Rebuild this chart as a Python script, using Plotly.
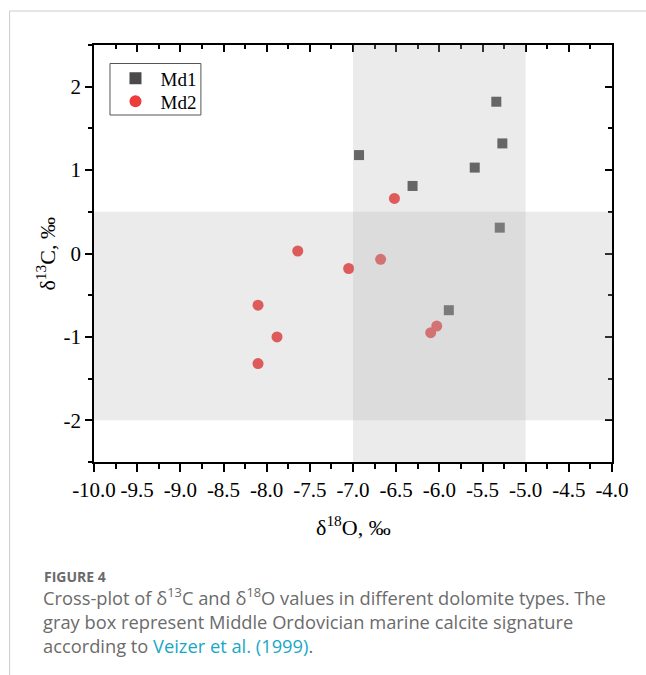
import plotly.graph_objects as go

# ---- data ----
md1_x = [-5.34, -5.27, -6.93, -5.59, -6.31, -5.30, -5.89]
md1_y = [1.82, 1.32, 1.18, 1.03, 0.81, 0.31, -0.68]
md2_x = [-6.52, -7.64, -7.05, -6.68, -8.10, -7.88, -8.10, -6.03, -6.10]
md2_y = [0.66, 0.03, -0.18, -0.07, -0.62, -1.00, -1.32, -0.87, -0.95]

x_tickvals = [-10.0, -9.5, -9.0, -8.5, -8.0, -7.5, -7.0, -6.5, -6.0, -5.5, -5.0, -4.5, -4.0]
x_ticktext = ["-10.0", "-9.5", "-9.0", "-8.5", "-8.0", "-7.5", "-7.0", "-6.5", "-6.0",
              "-5.5", "-5.0", "-4.5", "-4.0"]
y_tickvals = [-2, -1, 0, 1, 2]
y_ticktext = ["-2", "-1", "0", "1", "2"]

# marine calcite box (Veizer et al., 1999)
box_o18 = [-7.0, -5.0]
box_c13 = [-2.0, 0.5]

x_range = [-10.0, -4.0]
y_range = [-2.5, 2.5]

SERIF = "Liberation Serif"
W, H = 646, 675
L, R, T, B = 93.5, 34, 45, 213
PW, PH = W - L - R, H - T - B


def px(xp):
    return (xp - L) / PW


def py(yp):
    return (H - B - yp) / PH


fig = go.Figure()
fig.add_trace(go.Scatter(x=md1_x, y=md1_y, mode="markers", name="Md1", legend="legend",
                         marker=dict(symbol="square", size=10, color="#4a4a4a",
                                     line=dict(width=0))))
fig.add_trace(go.Scatter(x=md2_x, y=md2_y, mode="markers", name="Md2", legend="legend2",
                         marker=dict(symbol="circle", size=11, color="#ee3b3b",
                                     line=dict(width=0))))
# dummy trace for the mirrored (top/right) tick axes
fig.add_trace(go.Scatter(x=[None], y=[None], xaxis="x2", yaxis="y2",
                         showlegend=False, hoverinfo="skip"))

band = "rgba(180,180,180,0.265)"
fig.add_shape(type="rect", xref="x", yref="y", x0=box_o18[0], x1=box_o18[1],
              y0=y_range[0], y1=y_range[1], fillcolor=band, line=dict(width=0),
              layer="above")
fig.add_shape(type="rect", xref="x", yref="y", x0=x_range[0], x1=x_range[1],
              y0=box_c13[0], y1=box_c13[1], fillcolor=band, line=dict(width=0),
              layer="above")
# legend frame
fig.add_shape(type="rect", xref="paper", yref="paper", x0=px(109.5), x1=px(200.5),
              y0=py(115), y1=py(63.5), fillcolor="white",
              line=dict(color="#555555", width=1), layer="above")

# page frame lines
frame = "#cccccc"
fig.add_shape(type="line", xref="paper", yref="paper", x0=px(9), x1=px(W + 5),
              y0=py(11), y1=py(11), line=dict(color=frame, width=1))
fig.add_shape(type="line", xref="paper", yref="paper", x0=px(9), x1=px(9),
              y0=py(11), y1=py(H + 5), line=dict(color=frame, width=1))

axis_common = dict(showgrid=False, zeroline=False, linecolor="black", linewidth=1.5,
                   tickcolor="black", tickwidth=1.5,
                   tickfont=dict(family=SERIF, size=21, color="black"))

leg_common = dict(xanchor="left", yanchor="middle", bgcolor="rgba(0,0,0,0)",
                  borderwidth=0, font=dict(family=SERIF, size=19, color="black"),
                  itemwidth=40, itemsizing="constant")

fig.update_layout(
    width=W, height=H,
    margin=dict(l=L, r=R, t=T, b=B, pad=0),
    paper_bgcolor="white", plot_bgcolor="white",
    showlegend=True,
    legend=dict(x=px(110), y=py(78.5), **leg_common),
    legend2=dict(x=px(110), y=py(101.5), **leg_common),
    xaxis=dict(range=x_range, tickvals=x_tickvals, ticktext=x_ticktext,
               ticks="outside", ticklen=8, mirror=True, showline=True,
               minor=dict(dtick=0.25, tick0=-10, ticks="outside", ticklen=5,
                          tickcolor="black", tickwidth=1.5, showgrid=False),
               **axis_common),
    yaxis=dict(range=y_range, tickvals=y_tickvals, ticktext=y_ticktext,
               ticks="outside", ticklen=7, mirror=True, showline=True,
               minor=dict(dtick=0.5, tick0=-2.5, ticks="outside", ticklen=4,
                          tickcolor="black", tickwidth=1.5, showgrid=False),
               **axis_common),
    xaxis2=dict(range=x_range, overlaying="x", side="top", anchor="y2",
                tickvals=x_tickvals, showticklabels=False,
                ticks="inside", ticklen=7, showline=False,
                minor=dict(dtick=0.25, tick0=-10, ticks="inside", ticklen=4,
                           tickcolor="black", tickwidth=1.5, showgrid=False),
                **axis_common),
    yaxis2=dict(range=y_range, overlaying="y", side="right", anchor="x2",
                tickvals=y_tickvals, showticklabels=False,
                ticks="inside", ticklen=7, showline=False,
                minor=dict(dtick=0.5, tick0=-2.5, ticks="inside", ticklen=4,
                           tickcolor="black", tickwidth=1.5, showgrid=False),
                **axis_common),
)

# axis titles
fig.add_annotation(xref="paper", yref="paper", x=0.5, y=py(526),
                   text="δ<sup>18</sup>O, ‰", showarrow=False,
                   font=dict(family=SERIF, size=22, color="black"),
                   xanchor="center", yanchor="middle")
fig.add_annotation(xref="paper", yref="paper", x=px(45), y=py(254),
                   text="δ<sup>13</sup>C, ‰", showarrow=False, textangle=-90,
                   font=dict(family=SERIF, size=22, color="black"),
                   xanchor="center", yanchor="middle")

# caption
CAP = "Open Sans"
cap_col = "#6b6b6b"
fig.add_annotation(xref="paper", yref="paper", x=px(41), y=py(576),
                   text="<b>FIGURE 4</b>", showarrow=False,
                   font=dict(family=CAP, size=14, color="#6a6a6a"),
                   xanchor="left", yanchor="middle")
cap_lines = [
    "Cross-plot of δ<sup>13</sup>C and δ<sup>18</sup>O values in different dolomite types. The",
    "gray box represent Middle Ordovician marine calcite signature",
    "according to <span style='color:#17a8c6'>Veizer et al. (1999)</span>.",
]
cap_y = [596, 621, 645]
for yy, line in zip(cap_y, cap_lines):
    fig.add_annotation(xref="paper", yref="paper", x=px(40), y=py(yy),
                       text=line, showarrow=False,
                       font=dict(family=CAP, size=18.3, color=cap_col),
                       xanchor="left", yanchor="middle")

fig.write_html("out.html", config={"displayModeBar": False},
               post_script="document.body.style.margin='0';")
